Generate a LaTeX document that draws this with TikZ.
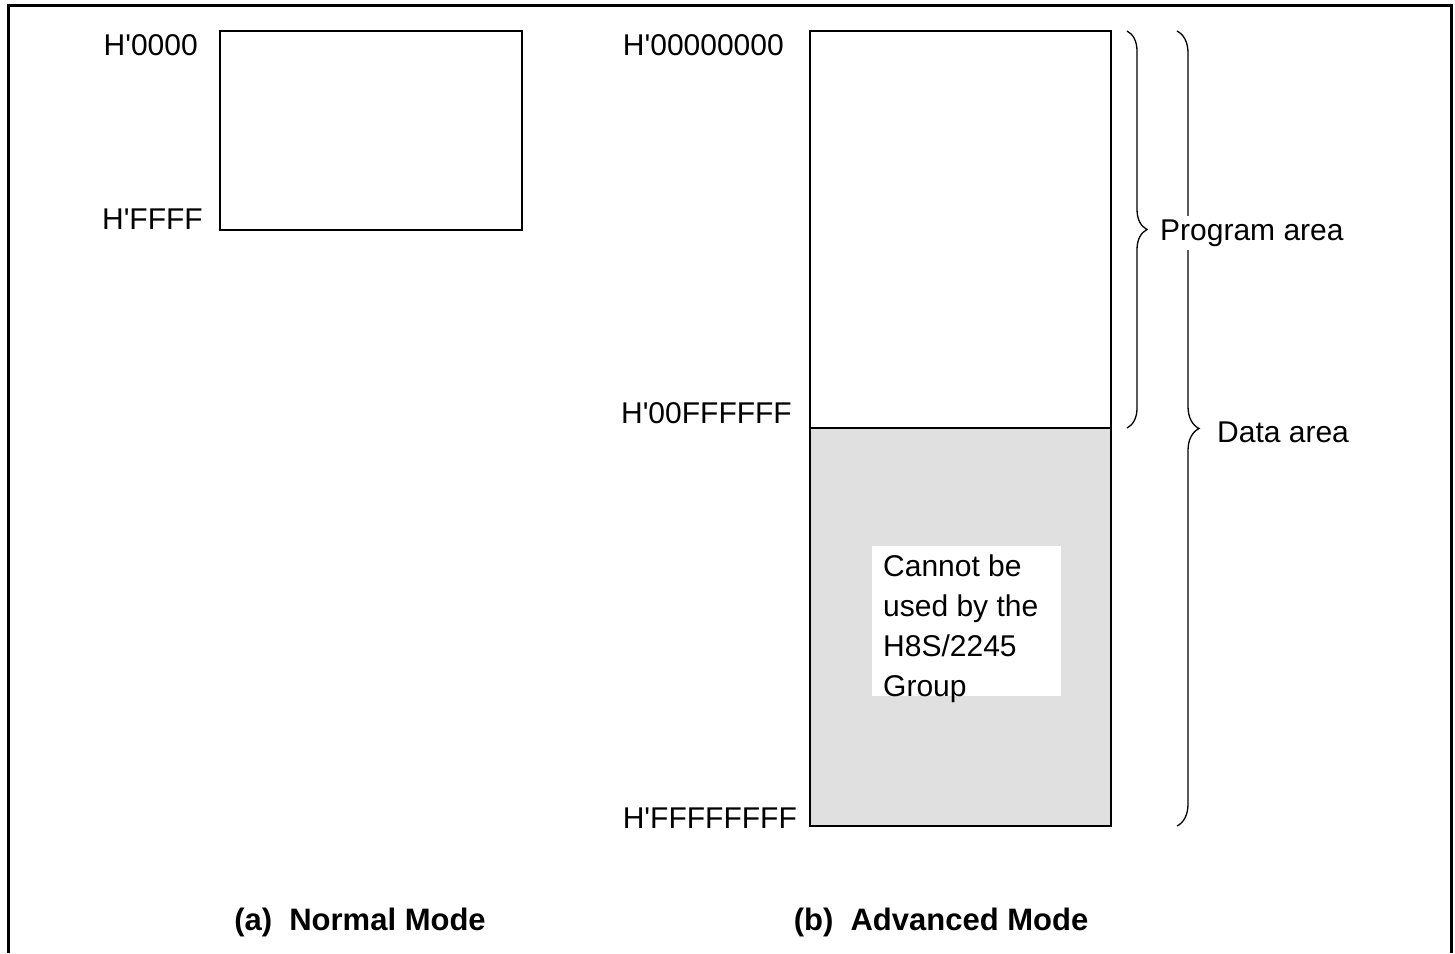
\documentclass[tikz,border=0pt]{standalone}
\usepackage{fontspec}
\setmainfont{Liberation Sans}
\usetikzlibrary{decorations.pathreplacing}
\definecolor{areagray}{HTML}{E0E0E0}
\newcommand{\ap}{\textquotesingle}
\tikzset{
  membox/.style={draw, line width=1.8pt},
  addr/.style={anchor=east, inner sep=0pt, font=\fontsize{30}{36}\selectfont},
  lbl/.style={anchor=west, inner sep=0pt, font=\fontsize{30}{36}\selectfont},
  title/.style={anchor=base, inner sep=0pt, font=\fontsize{31}{36}\selectfont\bfseries},
  bracestyle/.style={draw, line width=1.3pt, decorate, decoration={brace, amplitude=20pt}},
}
\begin{document}
\begin{tikzpicture}[x=1pt, y=-1pt]
\useasboundingbox (0,0) rectangle (1455,953);
% frame
\draw[line width=3pt] (8,953) -- (8,5) -- (1451,5) -- (1451,953);
% normal mode box
\coordinate (nTL) at (220,31);
\coordinate (nBR) at (522,230);
\draw[membox] (nTL) rectangle (nBR);
\node[addr] (n0) at (198,45) {H\ap0000};
\node[addr] (n1) at (203,219) {H\ap FFFF};
% advanced mode box
\coordinate (aTL) at (810,31);
\coordinate (aMR) at (1111,428);
\coordinate (aML) at (810,428);
\coordinate (aBR) at (1111,826);
\fill[areagray] (aML) rectangle (aBR);
\draw[membox] (aTL) rectangle (aBR);
\draw[membox] (aML) -- (aMR);
\node[addr] (a0) at (784,45) {H\ap00000000};
\node[addr] (a1) at (792,413) {H\ap00FFFFFF};
\node[addr] (a2) at (797,818) {H\ap FFFFFFFF};
% white note
\fill[white] (872,546) rectangle (1061,696);
\node[anchor=north west, inner sep=0pt, align=left,
      font=\fontsize{30}{40}\selectfont] (note) at (883,555)
  {Cannot be\\used by the\\H8S/2245\\Group};
% braces
\coordinate (b1t) at (1127,31);
\coordinate (b1b) at (1127,428);
\coordinate (b2t) at (1177,31);
\coordinate (b2b) at (1177,826);
\draw[bracestyle] (b1t) -- (b1b);
\draw[bracestyle, decoration={amplitude=22pt}] (b2t) -- (b2b);
\node[lbl, fill=white, inner sep=4pt] (prog) at (1156,233) {Program area};
\node[lbl] (data) at (1217,432) {Data area};
% titles
\node[title] (ta) at (360,930) {(a)\ \ Normal Mode};
\node[title] (tb) at (941,930) {(b)\ \ Advanced Mode};
\end{tikzpicture}
\end{document}
